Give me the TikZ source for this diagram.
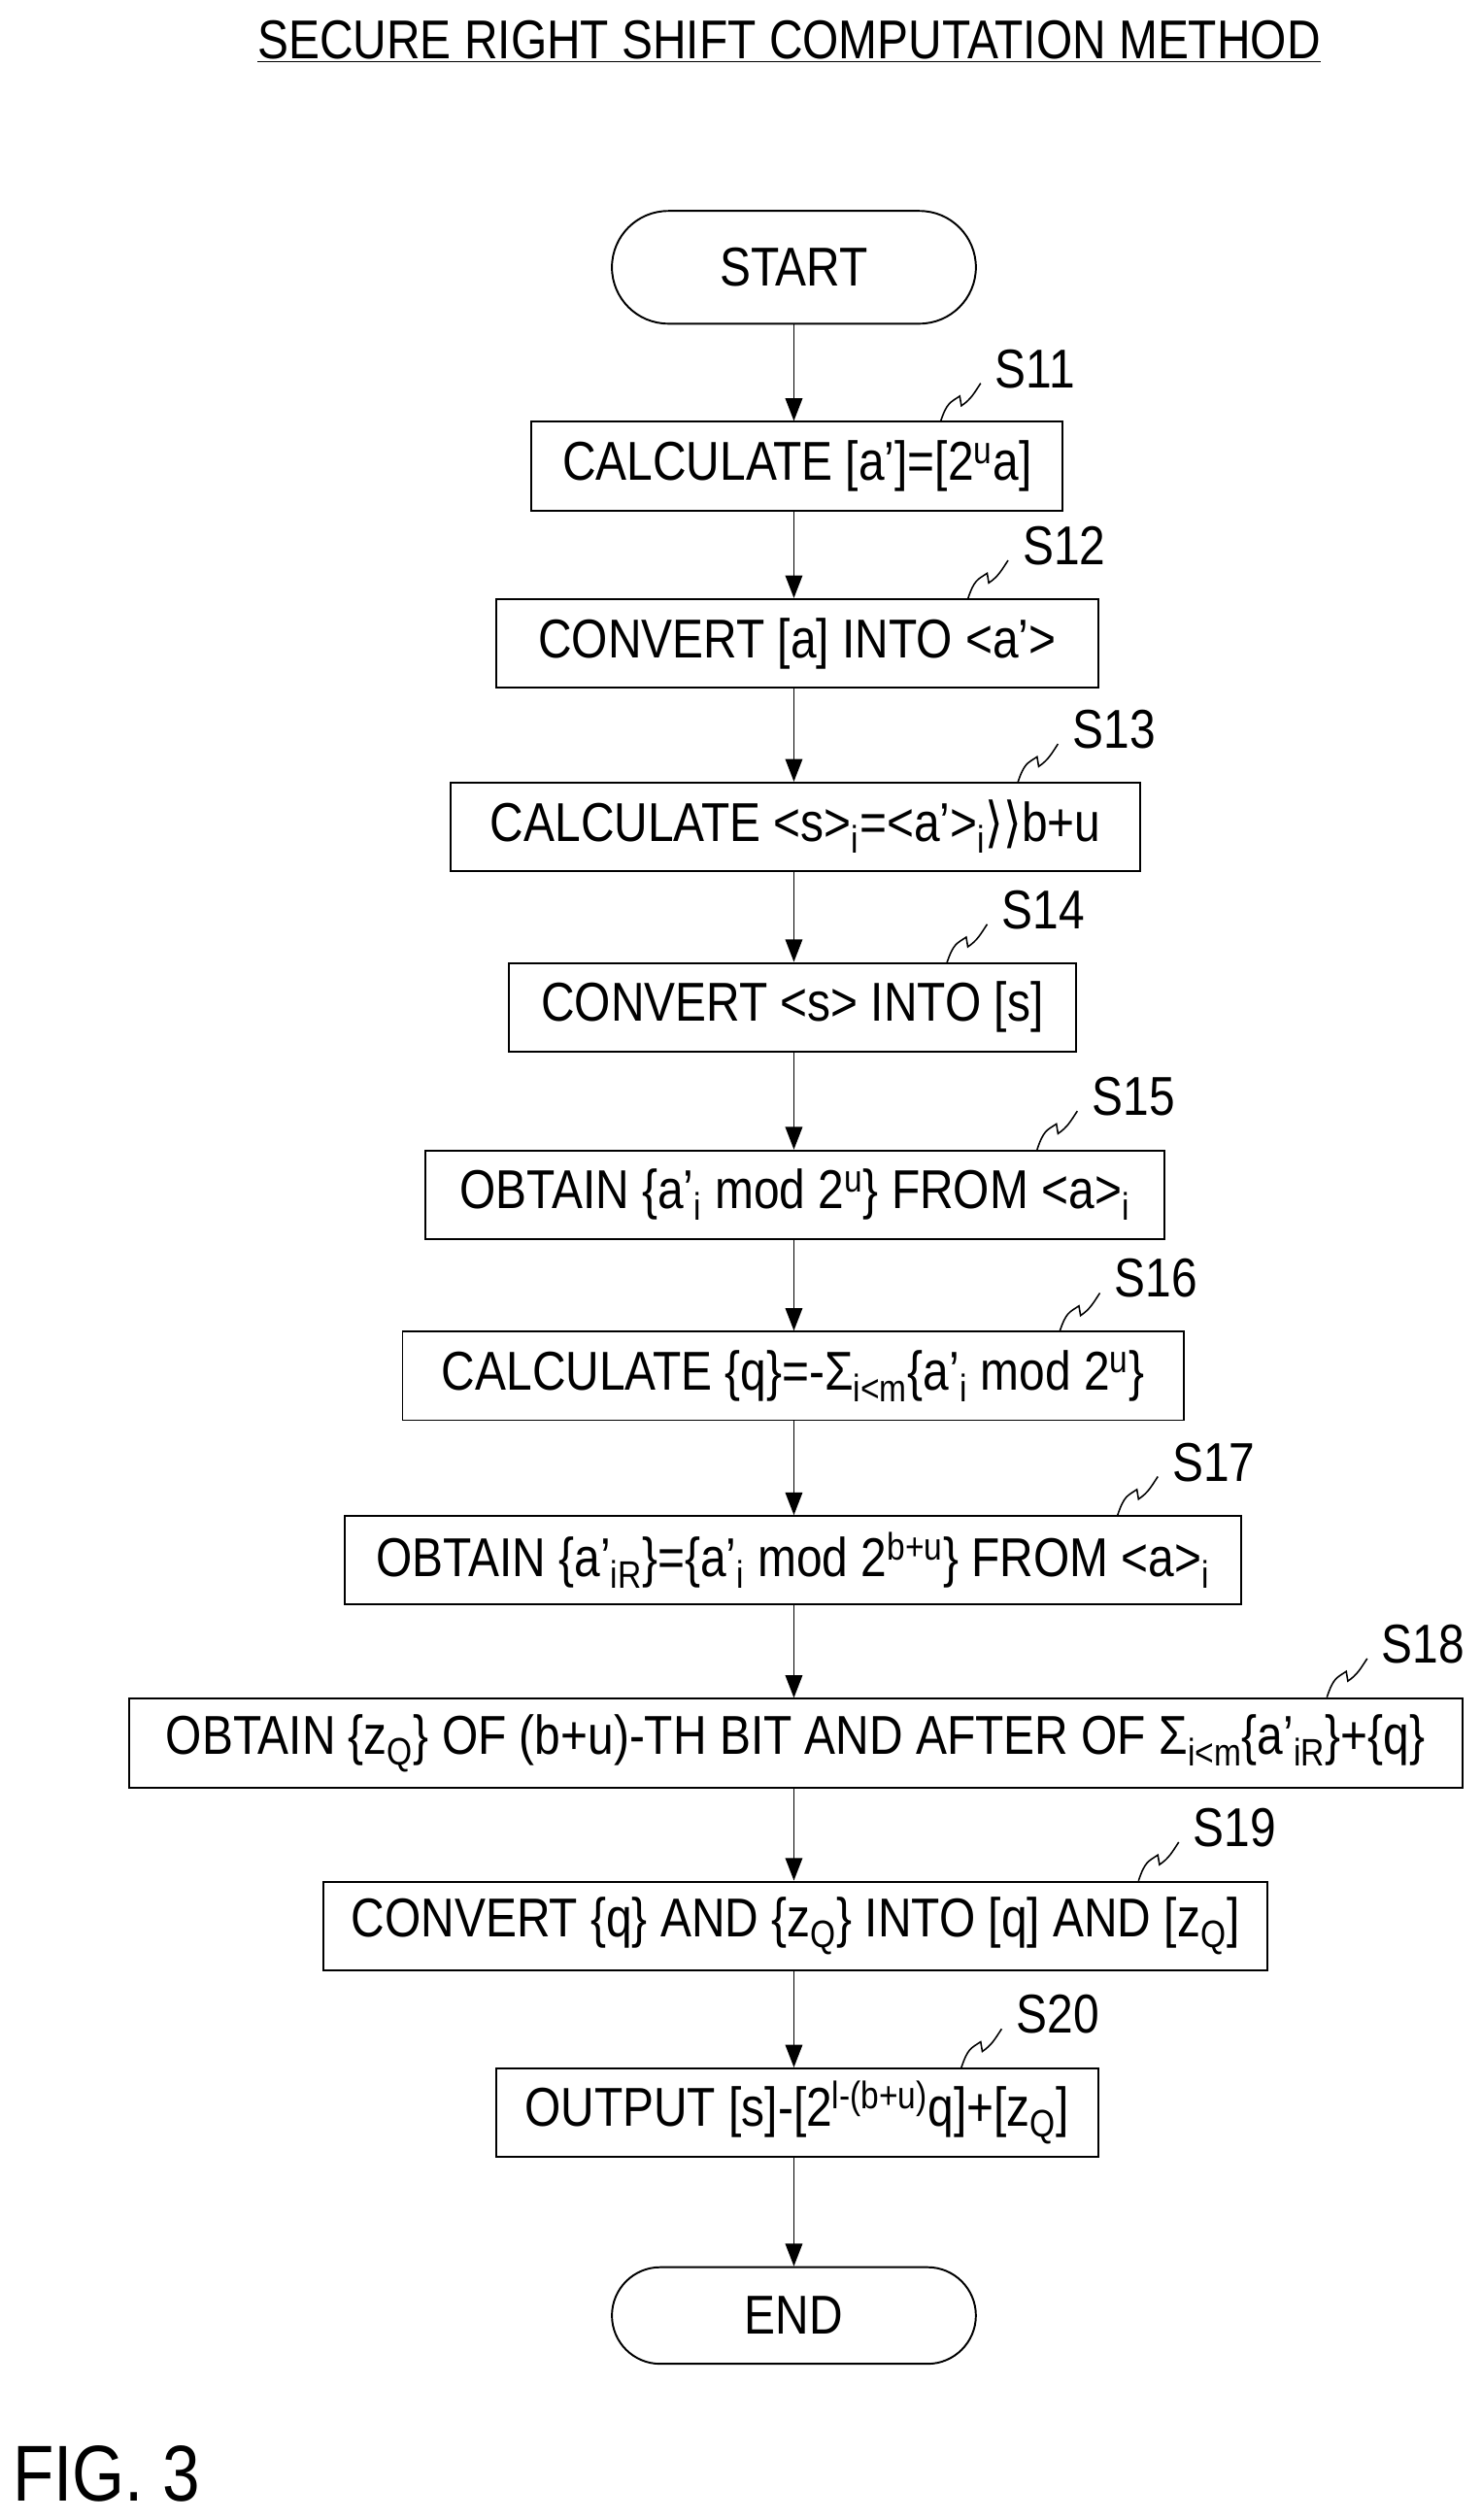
\documentclass[tikz,border=0pt]{standalone}
\usepackage{fontspec}
\setmainfont{Liberation Sans}[FakeStretch=0.85]
\newfontfamily\djv{DejaVu Sans}[FakeStretch=0.85]
\usetikzlibrary{arrows.meta}
\newcommand{\sbs}[1]{\textsubscript{#1}}
\newcommand{\sps}[1]{\textsuperscript{#1}}
\newcommand{\ap}{\char"27\relax}
\begin{document}
\begin{tikzpicture}[x=0.03cm,y=-0.03cm,
  box/.style={draw,line width=1pt,minimum height=1.65cm,inner sep=0pt,font=\fontsize{29}{34}\selectfont},
  term/.style={draw,line width=1pt,rounded corners=1.05cm,minimum width=6.78cm,minimum height=2.1cm,font=\fontsize{29}{34}\selectfont},
  arr/.style={line width=1pt,-{Triangle[length=12pt,width=9pt]}},
  lab/.style={font=\fontsize{29}{34}\selectfont,anchor=west},
  sq/.style={line width=0.8pt}]
\useasboundingbox (0,0) rectangle (920,1565);
\node[font=\fontsize{29}{34}\selectfont] (title) at (490,26) {\underline{SECURE RIGHT SHIFT COMPUTATION METHOD}};
\node[term] (start) at (493,166) {START};
\node[box,minimum width=9.9cm] (s11) at (495,289.5) {CALCULATE [a\ap]=[2\sps{u}a]};
\node[box,minimum width=11.22cm] (s12) at (495,399.5) {CONVERT [a] INTO <a\ap>};
\node[box,minimum width=12.84cm] (s13) at (494,513.5) {CALCULATE <s>\sbs{i}=<a\ap>\sbs{i}{\djv ⟩⟩}b+u};
\node[box,minimum width=10.56cm] (s14) at (492,625.5) {CONVERT <s> INTO [s]};
\node[box,minimum width=13.77cm] (s15) at (493.5,742) {OBTAIN \{a\ap\sbs{i} mod 2\sps{u}\} FROM <a>\sbs{i}};
\node[box,minimum width=14.55cm] (s16) at (492.5,854.5) {CALCULATE \{q\}=-Σ\sbs{i<m}\{a\ap\sbs{i} mod 2\sps{u}\}};
\node[box,minimum width=16.71cm] (s17) at (492.5,969) {OBTAIN \{a\ap\sbs{iR}\}=\{a\ap\sbs{i} mod 2\sps{b+u}\} FROM <a>\sbs{i}};
\node[box,minimum width=24.84cm] (s18) at (494,1082.5) {OBTAIN \{z\sbs{Q}\} OF (b+u)-TH BIT AND AFTER OF Σ\sbs{i<m}\{a\ap\sbs{iR}\}+\{q\}};
\node[box,minimum width=17.58cm] (s19) at (494,1196) {CONVERT \{q\} AND \{z\sbs{Q}\} INTO [q] AND [z\sbs{Q}]};
\node[box,minimum width=11.22cm] (s20) at (495,1312) {OUTPUT [s]-[2\sps{l-(b+u)}q]+[z\sbs{Q}]};
\node[term,minimum height=1.8cm,rounded corners=0.9cm] (end) at (493,1438) {END};
\node[font=\fontsize{42}{46}\selectfont] (fig) at (66,1536) {FIG. 3};
\foreach \a/\b in {start/s11,s11/s12,s12/s13,s13/s14,s14/s15,s15/s16,s16/s17,s17/s18,s18/s19,s19/s20,s20/end}
  \draw[arr] (\a.south -| start.south) -- (\b.north -| start.south);
\foreach \n/\t/\x/\y in {s11/S11/584/262,s12/S12/601/372,s13/S13/632/486,s14/S14/588/598,s15/S15/644/714,s16/S16/658/827,s17/S17/694/941,s18/S18/824/1054,s19/S19/707/1168,s20/S20/597/1284}{
  \coordinate (c\n) at (\x,\y);
  \draw[sq] (c\n) .. controls ++(4,-12) and ++(-6,4) .. ++(12,-16) -- ++(1,6) .. controls ++(6,-4) and ++(-4,6) .. ++(12,-14);
  \node[lab] (l\n) at (\x+30,\y-33) {\t};
}
\end{tikzpicture}
\end{document}
